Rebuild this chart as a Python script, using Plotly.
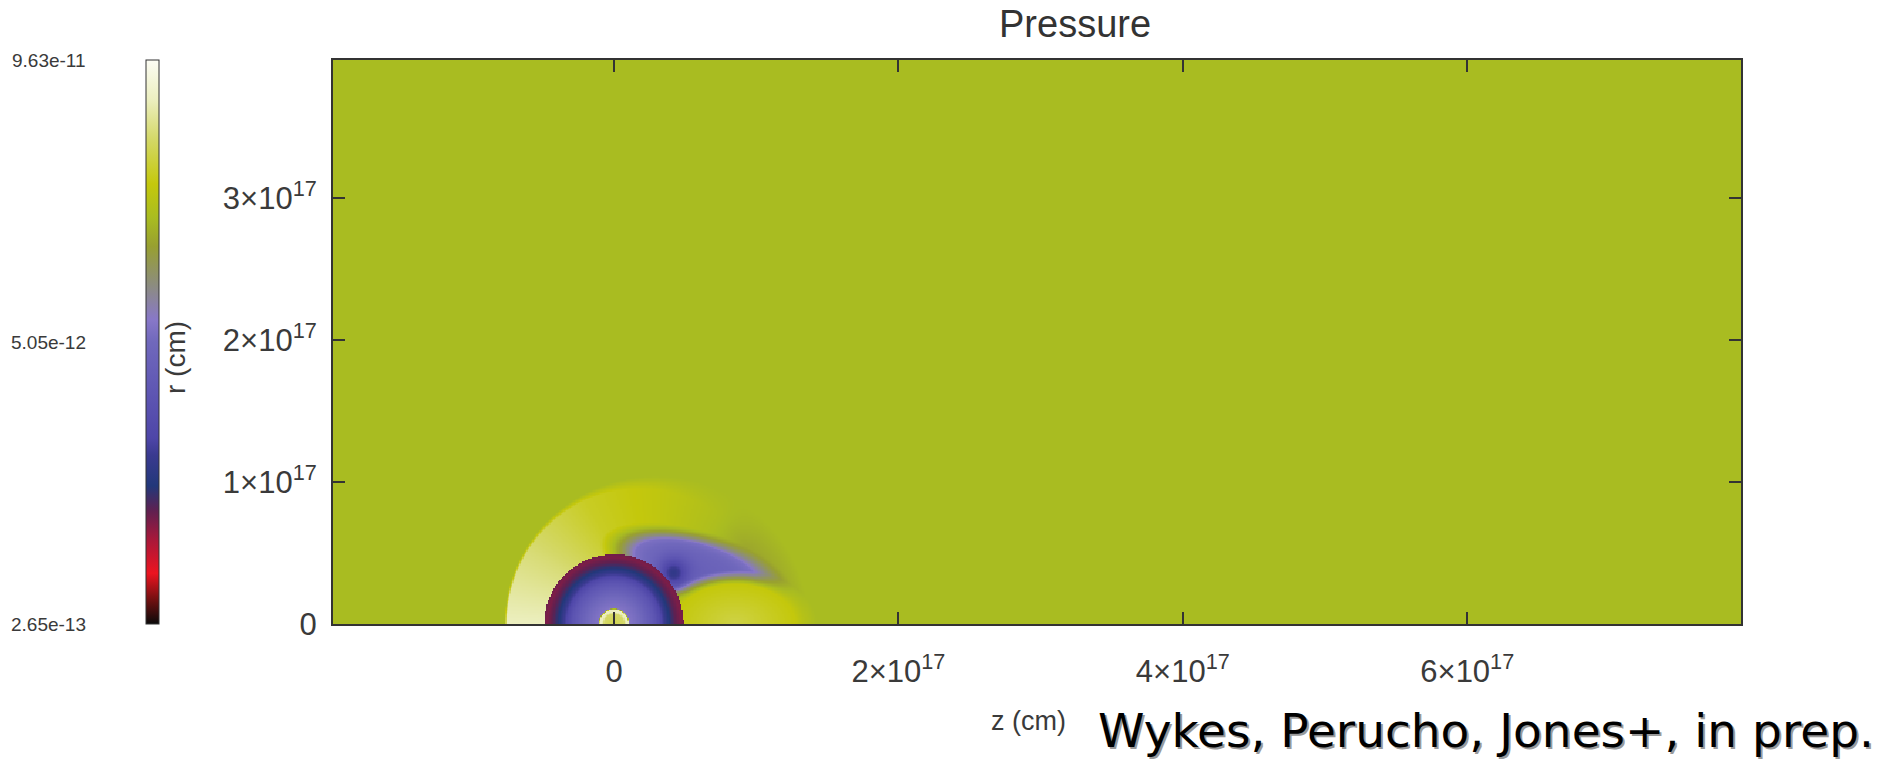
import numpy as np
import plotly.graph_objects as go

# ---------------- values ----------------
# domain shown (units of 1e17 cm)
UNIT = 1e17
z_range = [-1.976, 7.925]
r_range = [0.0, 3.97]
grid_step = 0.01

# colour bar limits / labels (pressure)
p_min = 2.65e-13
p_max = 9.63e-11
cbar_tick_values = [2.65e-13, 5.05e-12, 9.63e-11]
cbar_tick_text = ["2.65e-13", "5.05e-12", "9.63e-11"]

x_tick_values = [0, 2, 4, 6]
x_tick_text = ["0", "2×10<sup>17</sup>", "4×10<sup>17</sup>", "6×10<sup>17</sup>"]
y_tick_values = [0, 1, 2, 3]
y_tick_text = ["0", "1×10<sup>17</sup>", "2×10<sup>17</sup>", "3×10<sup>17</sup>"]

# ambient medium
p_ambient = 1.85e-11

# outer shocked shell: centre, semi-axes, pressure vs polar angle (deg)
shell_center = [0.30, 0.0]
shell_axes = [1.07, 1.04]
shell_angle = [0, 20, 40, 60, 90, 120, 150, 180]
shell_p = [1.38e-11, 1.30e-11, 1.47e-11, 1.97e-11, 2.48e-11, 2.97e-11, 4.48e-11, 6.38e-11]
shell_edge = [0.25, 0.25, 0.22, 0.16, 0.09, 0.04, 0.02, 0.015]

# low-pressure plume above/right of the cavity
plume_center = [0.58, 0.39]
plume_axes = [0.52, 0.20]
plume_tilt = -16
plume_dist = [0.0, 0.5, 0.85, 1.1, 1.35]
plume_p = [3.99e-12, 4.49e-12, 5.60e-12, 7.50e-12, 1.10e-11]
plume_core_center = [0.42, 0.36]
plume_core_size = 0.075
plume_core_p = 1.38e-12

# compressed region downstream of the cavity
knot_center = [0.85, 0.0]
knot_axes = [0.50, 0.33]
knot_dist = [0.0, 1.0]
knot_p = [3.54e-11, 2.48e-11]

# central cavity (centred at origin): radius samples and pressure
cavity_radius = 0.49
cavity_rho = [0.0, 0.07, 0.085, 0.10, 0.11, 0.19, 0.29, 0.34, 0.39, 0.43, 0.47, 0.49]
cavity_p = [3.75e-11, 4.22e-11, 6.38e-11, 6.38e-11, 6.03e-12, 5.05e-12,
            2.80e-12, 1.75e-12, 1.12e-12, 8.80e-13, 7.66e-13, 8.12e-13]

# colour map (fraction of log range -> colour)
cmap_pos = [0.0, 0.04, 0.09, 0.15, 0.20, 0.245, 0.30, 0.33, 0.42, 0.50, 0.54,
            0.60, 0.67, 0.72, 0.78, 0.86, 0.93, 1.0]
cmap_col = ["#0a0a0a", "#6a1010", "#ec1420", "#a8183a", "#602050", "#22387a",
            "#3a3a90", "#4e46a8", "#6058b4", "#7068bc", "#8878c8", "#8c8c80",
            "#98a030", "#a9bc21", "#c4c80c", "#d4d868", "#ecefc0", "#fcfcf4"]

# ---------------- build field ----------------
zc = np.arange(z_range[0] + grid_step / 2, z_range[1], grid_step)
rc = np.arange(r_range[0] + grid_step / 2, r_range[1], grid_step)
Z, R = np.meshgrid(zc, rc)
F = np.full(Z.shape, np.log10(p_ambient))

# shell
dz = Z - shell_center[0]
d = np.hypot(dz / shell_axes[0], R / shell_axes[1])
phi = np.degrees(np.arctan2(R, dz))
sv = np.interp(phi, shell_angle, np.log10(shell_p))
sw = np.interp(phi, shell_angle, shell_edge)
w = np.clip((1 - d) / sw, 0, 1)
F = F * (1 - w) + sv * w

# plume
a = np.radians(plume_tilt)
ddx = Z - plume_center[0]
ddy = R - plume_center[1]
u = ddx * np.cos(a) + ddy * np.sin(a)
v = -ddx * np.sin(a) + ddy * np.cos(a)
e = np.hypot(u / plume_axes[0], v / plume_axes[1])
pv = np.interp(e, plume_dist, np.log10(plume_p))
w = np.clip((1.35 - e) / 0.5, 0, 1)
F = F * (1 - w) + pv * w
core = np.exp(-((Z - plume_core_center[0]) ** 2 + (R - plume_core_center[1]) ** 2)
              / (2 * plume_core_size ** 2))
F = F * (1 - core) + np.log10(plume_core_p) * core

# knot
e = np.hypot((Z - knot_center[0]) / knot_axes[0], (R - knot_center[1]) / knot_axes[1])
kv = np.interp(e, knot_dist, np.log10(knot_p))
w = np.clip((1.15 - e) / 0.3, 0, 1)
F = F * (1 - w) + kv * w

# cavity
rho = np.hypot(Z, R)
cv = np.interp(rho, cavity_rho, np.log10(cavity_p))
F = np.where(rho <= cavity_radius, cv, F)

zmin = np.log10(p_min)
zmax = np.log10(p_max)
colorscale = [[p, c] for p, c in zip(cmap_pos, cmap_col)]

# ---------------- figure ----------------
W, H = 1885, 761
ML, MR, MT, MB = 333, 144, 60, 137
PW, PH = W - ML - MR, H - MT - MB


def px_x(x):
    return (x - ML) / PW


def px_y(y):
    return (H - MB - y) / PH


FONT = "Liberation Sans, Arial, sans-serif"

fig = go.Figure()
fig.add_trace(go.Heatmap(
    x=zc * UNIT, y=rc * UNIT, z=np.round(F, 3),
    zmin=zmin, zmax=zmax, colorscale=colorscale, zsmooth=False,
    hoverinfo="skip",
    colorbar=dict(
        x=px_x(146), xanchor="left", xpad=0, ypad=0,
        y=0.5, yanchor="middle", len=1, lenmode="fraction",
        thickness=13, outlinecolor="#333333", outlinewidth=1,
        showticklabels=False, ticks="",
    ),
))

tick_font = dict(family=FONT, size=31, color="#3a3a3a")
axis_common = dict(
    ticks="inside", ticklen=12, tickwidth=1.5, tickcolor="#333333",
    showline=True, linecolor="#333333", linewidth=2, mirror="ticks",
    showgrid=False, zeroline=False, tickfont=tick_font,
)
fig.update_xaxes(range=[z_range[0] * UNIT, z_range[1] * UNIT],
                 tickvals=[t * UNIT for t in x_tick_values], ticktext=x_tick_text,
                 ticklabelstandoff=19, **axis_common)
fig.update_yaxes(range=[r_range[0] * UNIT, r_range[1] * UNIT],
                 tickvals=[t * UNIT for t in y_tick_values], ticktext=y_tick_text,
                 ticklabelstandoff=8, **axis_common)

annotations = []
for val, txt in zip(cbar_tick_values, cbar_tick_text):
    frac = (np.log10(val) - zmin) / (zmax - zmin)
    annotations.append(dict(
        x=px_x(88), y=frac, xref="paper", yref="paper", xanchor="right",
        yanchor="middle", text=txt, showarrow=False,
        font=dict(family=FONT, size=19, color="#3a3a3a")))
annotations.append(dict(
    x=px_x(175), y=px_y(358), xref="paper", yref="paper", xanchor="center",
    yanchor="middle", text="r (cm)", textangle=-90, showarrow=False,
    font=dict(family=FONT, size=28, color="#3a3a3a")))
annotations.append(dict(
    x=px_x(1028), y=px_y(721), xref="paper", yref="paper", xanchor="center",
    yanchor="middle", text="z (cm)", showarrow=False,
    font=dict(family=FONT, size=27, color="#3a3a3a")))
annotations.append(dict(
    x=px_x(1075), y=px_y(24), xref="paper", yref="paper", xanchor="center",
    yanchor="middle", text="Pressure", showarrow=False,
    font=dict(family=FONT, size=38, color="#333333")))
credit = "Wykes, Perucho, Jones+, in prep."
annotations.append(dict(
    x=px_x(1876), y=px_y(730), xref="paper", yref="paper", xanchor="right",
    yanchor="middle", text=credit, showarrow=False, xshift=2, yshift=-2,
    font=dict(family="DejaVu Sans", size=47, color="#9a9a9a")))
annotations.append(dict(
    x=px_x(1876), y=px_y(730), xref="paper", yref="paper", xanchor="right",
    yanchor="middle", text=credit, showarrow=False,
    font=dict(family="DejaVu Sans", size=47, color="#000000")))

fig.update_layout(
    width=W, height=H, autosize=False,
    margin=dict(l=ML, r=MR, t=MT, b=MB, pad=0),
    paper_bgcolor="white", plot_bgcolor="white",
    showlegend=False, annotations=annotations,
)

fig.write_html("out.html", config={"displayModeBar": False},
               post_script="document.body.style.margin='0';")
